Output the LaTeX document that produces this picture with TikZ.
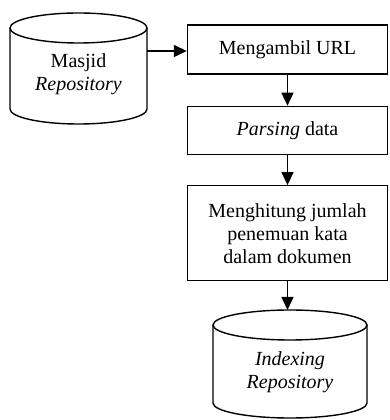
\documentclass[tikz,border=0pt]{standalone}
\usepackage{fontspec}
\setmainfont{Liberation Serif}
\usetikzlibrary{arrows.meta, positioning}

\begin{document}
\begin{tikzpicture}[x=1pt, y=1pt, line width=1.4pt,
    font=\fontsize{20}{23}\selectfont,
    procbox/.style={draw, rectangle, minimum width=200, align=center, inner sep=0},
    dbtext/.style={align=center, inner sep=0},
    flow/.style={-{Triangle[length=13pt, width=12pt]}}]
    \useasboundingbox (0,0) rectangle (389,420);

    % source database
    \draw (10,392) -- (10,311) arc[start angle=180, end angle=360, x radius=68.5, y radius=15]
          -- (147,392);
    \draw (78.5,392) ellipse[x radius=68.5, y radius=15];
    \node[dbtext] (masjid) at (78.5,346) {Masjid\\\textit{Repository}};
    \coordinate (masjid-out) at (147,369);

    % process steps
    \node[procbox, minimum height=49] (ambil) at (287.5,370.5) {Mengambil URL};
    \node[procbox, minimum height=48, below=31pt of ambil] (parsing) {\textit{Parsing} data};
    \node[procbox, minimum height=95, below=30pt of parsing] (hitung)
        {Menghitung jumlah\\penemuan kata\\dalam dokumen};

    % index database
    \draw (213,95) -- (213,17) arc[start angle=180, end angle=360, x radius=77, y radius=15]
          -- (367,95);
    \draw (290,95) ellipse[x radius=77, y radius=15];
    \node[dbtext] (indexing) at (290,47.5) {\textit{Indexing}\\\textit{Repository}};
    \coordinate (indexing-in) at (hitung.south |- 0,110);

    % arrows
    \draw[flow] (masjid-out) -- (masjid-out -| ambil.west);
    \draw[flow] (ambil) -- (parsing);
    \draw[flow] (parsing) -- (hitung);
    \draw[flow] (hitung.south) -- (indexing-in);
\end{tikzpicture}
\end{document}
